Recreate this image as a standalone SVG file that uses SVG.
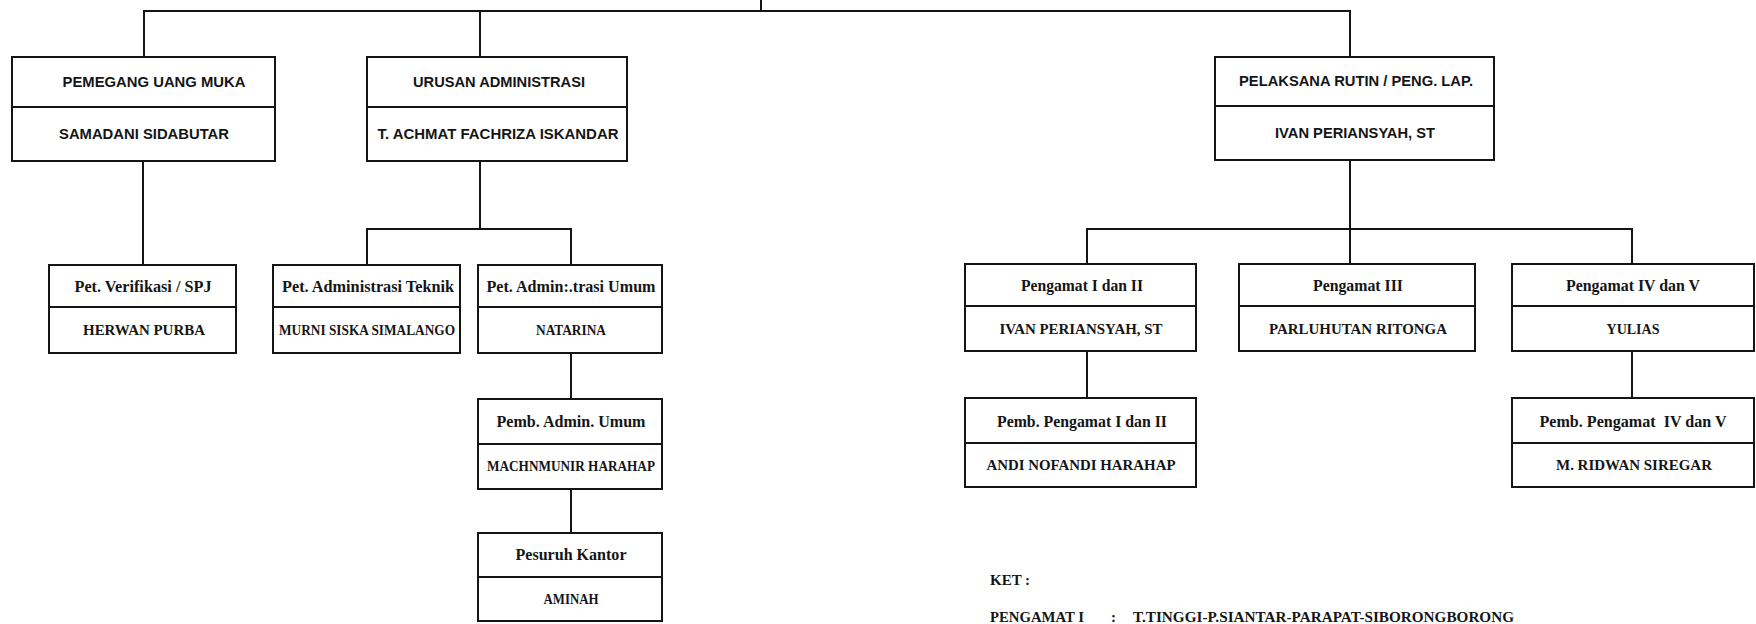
<svg xmlns="http://www.w3.org/2000/svg" width="1756" height="624" viewBox="0 0 1756 624">
<style>
.box{fill:#fff;stroke:#151515;stroke-width:2}
.div{stroke:#151515;stroke-width:2}
.con{fill:none;stroke:#151515;stroke-width:2}
.a{font-family:"Liberation Sans",Arial,sans-serif;font-weight:bold;font-size:15px;fill:#151515;text-anchor:middle}
.r{font-family:"Liberation Serif","Times New Roman",serif;font-weight:bold;font-size:16px;fill:#151515;text-anchor:middle}
.n{font-family:"Liberation Serif","Times New Roman",serif;font-weight:bold;font-size:14px;fill:#151515;text-anchor:middle}
.k{font-family:"Liberation Serif","Times New Roman",serif;font-weight:bold;font-size:15px;fill:#151515}
</style>
<rect width="1756" height="624" fill="#fff"/>
<g id="connectors">
<path class="con" d="M761 0V11M144 57V11H1350V57"/>
<path class="con" d="M480 11V57"/>
<path class="con" d="M143 161V265"/>
<path class="con" d="M480 161V229M367 265V229H571V265"/>
<path class="con" d="M571 353V399M571 489V533"/>
<path class="con" d="M1350 160V264M1087 264V229H1632V264"/>
<path class="con" d="M1087 351V398M1632 351V398"/>
</g>
<g id="pemegang">
<rect class="box" x="12" y="57" width="263" height="104"/>
<line class="div" x1="12" y1="107" x2="275" y2="107"/>
<text class="a" x="154" y="87" textLength="183" lengthAdjust="spacingAndGlyphs">PEMEGANG UANG MUKA</text>
<text class="a" x="144" y="139" textLength="170" lengthAdjust="spacingAndGlyphs">SAMADANI SIDABUTAR</text>
</g>
<g id="urusan">
<rect class="box" x="367" y="57" width="260" height="104"/>
<line class="div" x1="367" y1="107" x2="627" y2="107"/>
<text class="a" x="499" y="87" textLength="172" lengthAdjust="spacingAndGlyphs">URUSAN ADMINISTRASI</text>
<text class="a" x="498" y="139" textLength="241" lengthAdjust="spacingAndGlyphs">T. ACHMAT FACHRIZA ISKANDAR</text>
</g>
<g id="pelaksana">
<rect class="box" x="1215" y="57" width="279" height="103"/>
<line class="div" x1="1215" y1="106" x2="1494" y2="106"/>
<text class="a" x="1356" y="86" textLength="234" lengthAdjust="spacingAndGlyphs">PELAKSANA RUTIN / PENG. LAP.</text>
<text class="a" x="1355" y="138" textLength="160" lengthAdjust="spacingAndGlyphs">IVAN PERIANSYAH, ST</text>
</g>
<g id="verifikasi">
<rect class="box" x="49" y="265" width="187" height="88"/>
<line class="div" x1="49" y1="307" x2="236" y2="307"/>
<text class="r" x="143" y="292" textLength="137" lengthAdjust="spacingAndGlyphs">Pet. Verifikasi / SPJ</text>
<text class="n" x="144" y="335" textLength="122" lengthAdjust="spacingAndGlyphs">HERWAN PURBA</text>
</g>
<g id="teknik">
<rect class="box" x="273" y="265" width="187" height="88"/>
<line class="div" x1="273" y1="307" x2="460" y2="307"/>
<text class="r" x="368" y="292" textLength="172" lengthAdjust="spacingAndGlyphs">Pet. Administrasi Teknik</text>
<text class="n" x="367" y="335" textLength="176" lengthAdjust="spacingAndGlyphs">MURNI SISKA SIMALANGO</text>
</g>
<g id="umum">
<rect class="box" x="478" y="265" width="184" height="88"/>
<line class="div" x1="478" y1="307" x2="662" y2="307"/>
<text class="r" x="571" y="292" textLength="169" lengthAdjust="spacingAndGlyphs">Pet. Admin:.trasi Umum</text>
<text class="n" x="571" y="335" textLength="70" lengthAdjust="spacingAndGlyphs">NATARINA</text>
</g>
<g id="pemb-admin">
<rect class="box" x="478" y="399" width="184" height="90"/>
<line class="div" x1="478" y1="444" x2="662" y2="444"/>
<text class="r" x="571" y="427" textLength="149" lengthAdjust="spacingAndGlyphs">Pemb. Admin. Umum</text>
<text class="n" x="571" y="471" textLength="168" lengthAdjust="spacingAndGlyphs">MACHNMUNIR HARAHAP</text>
</g>
<g id="pesuruh">
<rect class="box" x="478" y="533" width="184" height="88"/>
<line class="div" x1="478" y1="577" x2="662" y2="577"/>
<text class="r" x="571" y="560" textLength="111" lengthAdjust="spacingAndGlyphs">Pesuruh Kantor</text>
<text class="n" x="571" y="604" textLength="55" lengthAdjust="spacingAndGlyphs">AMINAH</text>
</g>
<g id="pengamat-1-2">
<rect class="box" x="965" y="264" width="231" height="87"/>
<line class="div" x1="965" y1="306" x2="1196" y2="306"/>
<text class="r" x="1082" y="291" textLength="122" lengthAdjust="spacingAndGlyphs">Pengamat I dan II</text>
<text class="n" x="1081" y="334" textLength="163" lengthAdjust="spacingAndGlyphs">IVAN PERIANSYAH, ST</text>
</g>
<g id="pengamat-3">
<rect class="box" x="1239" y="264" width="236" height="87"/>
<line class="div" x1="1239" y1="306" x2="1475" y2="306"/>
<text class="r" x="1358" y="291" textLength="90" lengthAdjust="spacingAndGlyphs">Pengamat III</text>
<text class="n" x="1358" y="334" textLength="178" lengthAdjust="spacingAndGlyphs">PARLUHUTAN RITONGA</text>
</g>
<g id="pengamat-4-5">
<rect class="box" x="1512" y="264" width="242" height="87"/>
<line class="div" x1="1512" y1="306" x2="1754" y2="306"/>
<text class="r" x="1633" y="291" textLength="134" lengthAdjust="spacingAndGlyphs">Pengamat IV dan V</text>
<text class="n" x="1633" y="334" textLength="53" lengthAdjust="spacingAndGlyphs">YULIAS</text>
</g>
<g id="pemb-pengamat-1-2">
<rect class="box" x="965" y="398" width="231" height="89"/>
<line class="div" x1="965" y1="443" x2="1196" y2="443"/>
<text class="r" x="1082" y="427" textLength="170" lengthAdjust="spacingAndGlyphs">Pemb. Pengamat I dan II</text>
<text class="n" x="1081" y="470" textLength="189" lengthAdjust="spacingAndGlyphs">ANDI NOFANDI HARAHAP</text>
</g>
<g id="pemb-pengamat-4-5">
<rect class="box" x="1512" y="398" width="242" height="89"/>
<line class="div" x1="1512" y1="443" x2="1754" y2="443"/>
<text class="r" x="1633" y="427" textLength="187" lengthAdjust="spacingAndGlyphs" xml:space="preserve">Pemb. Pengamat  IV dan V</text>
<text class="n" x="1634" y="470" textLength="156" lengthAdjust="spacingAndGlyphs">M. RIDWAN SIREGAR</text>
</g>
<g id="keterangan">
<text class="k" x="990" y="585">KET</text>
<text class="k" x="1025" y="585">:</text>
<text class="k" x="990" y="622" textLength="94" lengthAdjust="spacingAndGlyphs">PENGAMAT I</text>
<text class="k" x="1111" y="622">:</text>
<text class="k" x="1133" y="622" textLength="381" lengthAdjust="spacingAndGlyphs">T.TINGGI-P.SIANTAR-PARAPAT-SIBORONGBORONG</text>
</g>
</svg>
